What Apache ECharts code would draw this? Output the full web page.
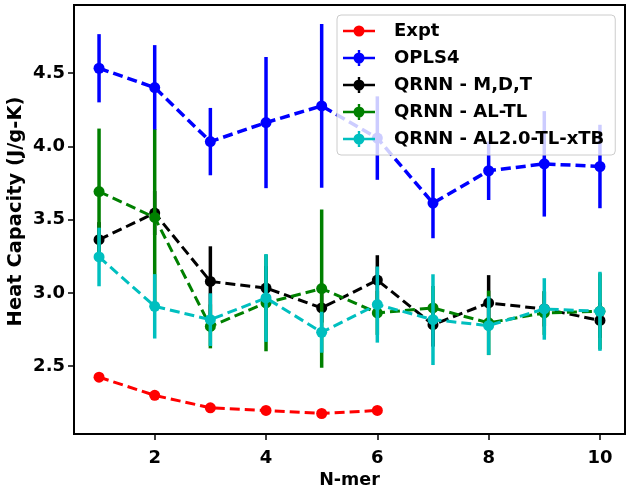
<!DOCTYPE html>
<html>
<head>
<meta charset="utf-8">
<script src="https://cdn.jsdelivr.net/npm/echarts@6/dist/echarts.min.js"></script>
<style>html,body{margin:0;padding:0;background:#fff;}#c{width:629px;height:489px;}</style>
</head>
<body>
<div id="c"></div>
<script>
var nmer = [1, 2, 3, 4, 5, 6, 7, 8, 9, 10];
var xTicks = [2, 4, 6, 8, 10];
var yTicks = [2.5, 3.0, 3.5, 4.0, 4.5];
var expt = [2.424, 2.30, 2.215, 2.197, 2.176, 2.197];
var opls4 = [4.534, 4.402, 4.033, 4.163, 4.277, 4.057, 3.613, 3.834, 3.881, 3.863];
var opls4Err = [0.233, 0.29, 0.23, 0.448, 0.56, 0.285, 0.24, 0.2, 0.36, 0.285];
var mdt = [3.363, 3.545, 3.078, 3.033, 2.897, 3.087, 2.783, 2.931, 2.89, 2.812];
var mdtErr = [0.12, 0.15, 0.24, 0.15, 0.1, 0.17, 0.15, 0.19, 0.12, 0.12];
var altl = [3.692, 3.515, 2.771, 2.931, 3.029, 2.863, 2.897, 2.795, 2.863, 2.874];
var altlErr = [0.43, 0.6, 0.15, 0.33, 0.54, 0.15, 0.15, 0.22, 0.15, 0.26];
var al2 = [3.245, 2.908, 2.817, 2.965, 2.731, 2.92, 2.817, 2.776, 2.89, 2.874];
var al2Err = [0.2, 0.22, 0.18, 0.3, 0.14, 0.26, 0.31, 0.2, 0.21, 0.27];
var names = ['Expt', 'OPLS4', 'QRNN - M,D,T', 'QRNN - AL-TL', 'QRNN - AL2.0-TL-xTB'];
var colors = ['#ff0000', '#0000ff', '#000000', '#008000', '#00bfbf'];

var FONT = 'DejaVu Sans';
var iconLine = 'M0 6.8 L32 6.8 L32 9.2 L0 9.2 Z M21.5 8 A5.5 5.5 0 1 1 10.5 8 A5.5 5.5 0 1 1 21.5 8 Z';
var iconErr = iconLine + ' M14.8 0 L17.2 0 L17.2 16 L14.8 16 Z';

function pts(v) { return v.map(function (y, i) { return [nmer[i], y]; }); }
function errPts(v, e) { return v.map(function (y, i) { return [nmer[i], y - e[i], y + e[i]]; }); }
function errRender(color, w) {
  return function (params, api) {
    var x = api.value(0), lo = api.value(1), hi = api.value(2);
    var p1 = api.coord([x, lo]), p2 = api.coord([x, hi]);
    return { type: 'line', shape: { x1: p1[0], y1: p1[1], x2: p2[0], y2: p2[1] },
             style: { stroke: color, lineWidth: w } };
  };
}
function lineSeries(i, data, z, w) {
  return { type: 'line', name: names[i], data: pts(data), z: z,
    symbol: 'circle', symbolSize: 11, showSymbol: true,
    itemStyle: { color: colors[i], borderWidth: 0 },
    lineStyle: { color: colors[i], width: w, type: [10, 5] },
    emphasis: { disabled: true }, animation: false };
}
function errSeries(i, v, e, z) {
  return { type: 'custom', name: names[i], data: errPts(v, e), z: z,
    renderItem: errRender(colors[i], 3.5), encode: { x: 0, y: [1, 2] },
    itemStyle: { color: colors[i] }, animation: false, silent: true };
}

var series = [
  lineSeries(0, expt, 2, 3),
  errSeries(1, opls4, opls4Err, 3), lineSeries(1, opls4, 4, 3.5),
  errSeries(2, mdt, mdtErr, 5), lineSeries(2, mdt, 6, 3),
  errSeries(3, altl, altlErr, 7), lineSeries(3, altl, 8, 3),
  errSeries(4, al2, al2Err, 9), lineSeries(4, al2, 10, 3)
];

var chart = echarts.init(document.getElementById('c'), null, { renderer: 'canvas' });
chart.setOption({
  animation: false,
  backgroundColor: '#fff',
  grid: { left: 74, top: 5, width: 551, height: 429, show: true, borderColor: '#000', borderWidth: 2,
          backgroundColor: 'transparent', outerBoundsMode: 'none', containLabel: false },
  xAxis: {
    type: 'value', min: 0.55, max: 10.45,
    name: 'N-mer', nameLocation: 'middle', nameGap: 37, nameMoveOverlap: false,
    nameTextStyle: { fontFamily: FONT, fontWeight: 'bold', fontSize: 17.5, color: '#000' },
    axisLine: { show: true, onZero: false, lineStyle: { color: '#000', width: 2 } },
    axisTick: { show: true, length: 6, lineStyle: { color: '#000', width: 1.5 }, customValues: xTicks },
    axisLabel: { customValues: xTicks, margin: 15, fontFamily: FONT, fontWeight: 'bold', fontSize: 18, color: '#000' },
    splitLine: { show: false }
  },
  yAxis: {
    type: 'value', min: 2.036, max: 4.966,
    name: 'Heat Capacity (J/g-K)', nameLocation: 'middle', nameGap: 48, nameRotate: 90, nameMoveOverlap: false,
    nameTextStyle: { fontFamily: FONT, fontWeight: 'bold', fontSize: 19.5, color: '#000', padding: [0, 0, 0, 16] },
    axisLine: { show: true, onZero: false, lineStyle: { color: '#000', width: 2 } },
    axisTick: { show: true, length: 6, lineStyle: { color: '#000', width: 1.5 }, customValues: yTicks },
    axisLabel: { customValues: yTicks, margin: 9, fontFamily: FONT, fontWeight: 'bold', fontSize: 18, color: '#000',
      formatter: function (v) { return v.toFixed(1); } },
    splitLine: { show: false }
  },
  legend: {
    orient: 'vertical', left: 337, top: 15, z: 20,
    itemWidth: 32, itemHeight: 16, itemGap: 9,
    padding: [7, 11, 7, 6],
    backgroundColor: 'rgba(255,255,255,0.8)', borderColor: '#cccccc', borderWidth: 1, borderRadius: 4,
    selectedMode: false,
    textStyle: { fontFamily: FONT, fontWeight: 'bold', fontSize: 18, color: '#000', padding: [0, 0, 0, 14] },
    data: [
      { name: names[0], icon: 'path://' + iconLine, itemStyle: { color: colors[0] } },
      { name: names[1], icon: 'path://' + iconErr, itemStyle: { color: colors[1] } },
      { name: names[2], icon: 'path://' + iconErr, itemStyle: { color: colors[2] } },
      { name: names[3], icon: 'path://' + iconErr, itemStyle: { color: colors[3] } },
      { name: names[4], icon: 'path://' + iconErr, itemStyle: { color: colors[4] } }
    ]
  },
  series: series
});
</script>
</body>
</html>
